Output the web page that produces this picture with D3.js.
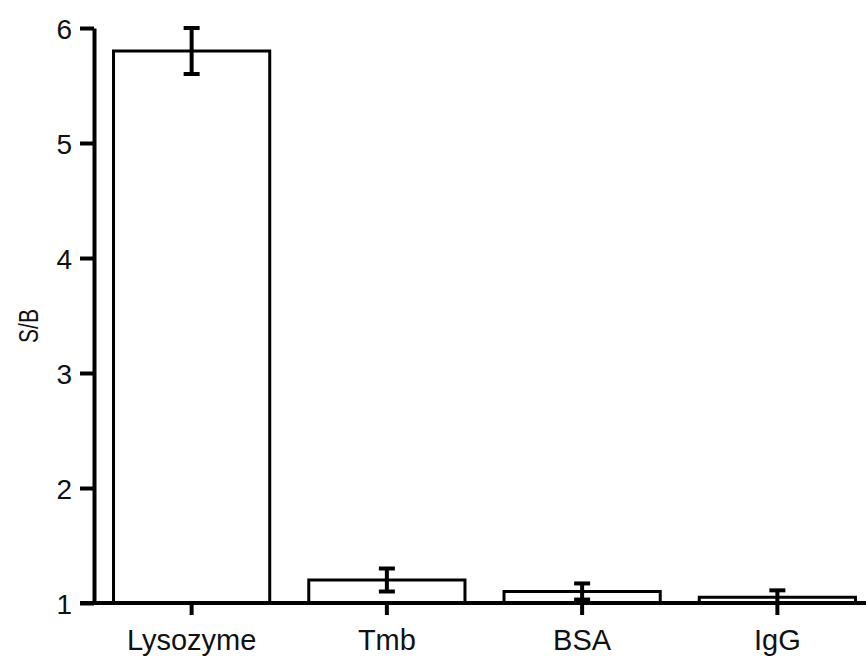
<!DOCTYPE html>
<html><head><meta charset="utf-8">
<script src="https://cdn.jsdelivr.net/npm/d3@7"></script>
<style>body{margin:0;background:#fff}svg{display:block}text{font-family:"Liberation Sans",Arial,sans-serif;fill:#111}</style>
</head><body><svg id="c" width="866" height="656"></svg>
<script>
const categories = ["Lysozyme","Tmb","BSA","IgG"];
const values = [5.8, 1.2, 1.1, 1.05];
const errors = [0.2, 0.1, 0.07, 0.06];
const yTicks = [1,2,3,4,5,6];

const svg = d3.select("#c");
const y = d3.scaleLinear().domain([1,6]).range([603,28]);
const x = d3.scaleBand().domain(categories).range([94,875]).paddingInner(0.2).paddingOuter(0.1);

// bars
svg.selectAll("rect.bar").data(categories).join("rect")
  .attr("x", d=>x(d)).attr("width", x.bandwidth())
  .attr("y", (d,i)=>y(values[i])).attr("height",(d,i)=>y(1)-y(values[i]))
  .attr("fill","#fff").attr("stroke","#000").attr("stroke-width",3);

// error bars
const eb = svg.append("g").attr("stroke","#000").attr("stroke-width",4);
categories.forEach((c,i)=>{
  const cx = x(c)+x.bandwidth()/2;
  const hi = values[i]+errors[i], lo = values[i]-errors[i];
  eb.append("line").attr("x1",cx).attr("x2",cx).attr("y1",y(hi)).attr("y2",y(Math.max(lo,1)));
  eb.append("line").attr("x1",cx-8).attr("x2",cx+8).attr("y1",y(hi)).attr("y2",y(hi));
  if(lo>1) eb.append("line").attr("x1",cx-8).attr("x2",cx+8).attr("y1",y(lo)).attr("y2",y(lo));
});

// y axis
const ya = svg.append("g").attr("transform","translate(94,0)")
  .call(d3.axisLeft(y).tickValues(yTicks).tickFormat(d3.format("d")).tickSize(14).tickSizeOuter(0).tickPadding(8));
ya.select(".domain").attr("stroke","#000").attr("stroke-width",4);
ya.selectAll(".tick line").attr("stroke","#000").attr("stroke-width",4);
ya.selectAll(".tick text").attr("font-size",28).attr("font-family","Liberation Sans, Arial, sans-serif").attr("fill","#111").attr("dy","0.36em");

// x axis
const xa = svg.append("g").attr("transform","translate(0,603)")
  .call(d3.axisBottom(x).tickSize(12).tickSizeOuter(0).tickPadding(14));
xa.select(".domain").attr("stroke","#000").attr("stroke-width",4).attr("d","M80,0H866");
xa.selectAll(".tick line").attr("stroke","#000").attr("stroke-width",4);
xa.selectAll(".tick text").attr("font-size",29).attr("font-family","Liberation Sans, Arial, sans-serif").attr("fill","#111");

// y label
svg.append("text").attr("transform","translate(38,326) rotate(-90) scale(0.75,1)")
  .attr("text-anchor","middle").attr("font-size",28).text("S/B");
</script></body></html>
